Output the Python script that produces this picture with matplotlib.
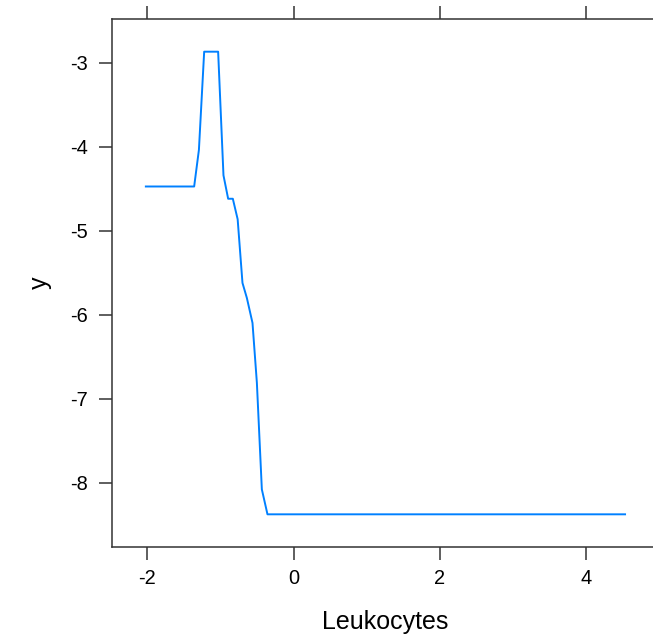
import matplotlib.pyplot as plt

plt.rcParams['font.family'] = ['Liberation Sans', 'DejaVu Sans']

# partial dependence values
leukocytes = [-2.022, -1.361, -1.296, -1.224, -1.033, -0.960, -0.896, -0.832,
              -0.766, -0.700, -0.640, -0.563, -0.503, -0.435, -0.358, 4.534]
yhat = [-4.474, -4.474, -4.038, -2.869, -2.869, -4.341, -4.620, -4.620,
        -4.864, -5.622, -5.801, -6.098, -6.811, -8.080, -8.377, -8.377]
xticks = [-2, 0, 2, 4]
yticks = [-3, -4, -5, -6, -7, -8]

W, H = 653, 640
fig = plt.figure(figsize=(W / 100, H / 100), dpi=100)
# panel runs off the right edge, like the original
ax = fig.add_axes([112.3 / W, 1 - 546.7 / H, 546.3 / W, 527.4 / H])

ax.plot(leukocytes, yhat, color='#0080ff', lw=1.4)

# lattice style 7% padding
xr = max(leukocytes) - min(leukocytes)
yr = max(yhat) - min(yhat)
ax.set_xlim(min(leukocytes) - 0.07 * xr, max(leukocytes) + 0.07 * xr)
ax.set_ylim(min(yhat) - 0.07 * yr, max(yhat) + 0.07 * yr)
ax.set_xticks(xticks)
ax.set_xticklabels([str(t) for t in xticks])
ax.set_yticks(yticks)
ax.set_yticklabels([str(t) for t in yticks])

for s in ax.spines.values():
    s.set_color('#333333')
    s.set_linewidth(1.1)
ax.spines['right'].set_visible(False)

ax.tick_params(axis='both', direction='out', length=9.3, width=1.1, color='#333333',
               labelsize=14.4, top=True, right=False)
ax.tick_params(axis='y', pad=8.5)
ax.tick_params(axis='x', pad=7)

fig.text(385.5 / W, 1 - 621.7 / H, 'Leukocytes', fontsize=18, ha='center', va='center')
fig.text(40 / W, 1 - 283 / H, 'y', fontsize=18, ha='center', va='center', rotation=90)

fig.savefig('out.png', dpi=100)
